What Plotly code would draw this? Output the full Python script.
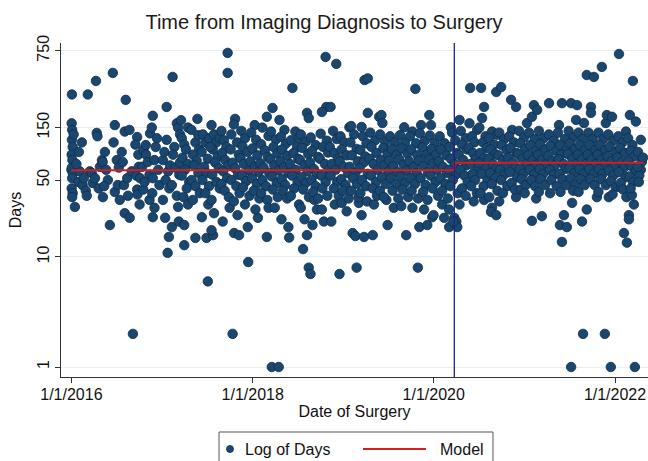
import pandas as pd
import plotly.graph_objects as go

# ---------------- data ----------------
# surgery date as days after 1/1/2016, and days from imaging diagnosis to surgery
surgery_day = [
    0, 2, 1, 3, 2, 5, 1, 4, 2, 6, 3, 1, 5, 3, 14, 30, 34, 28, 9, 20,
    45, 50, 58, 66, 62, 74, 42,
    82, 86, 99, 102, 105, 95, 110, 115,
    123, 126, 127, 155, 135, 140, 147, 132,
    167, 175, 183, 175, 187, 195, 170, 191,
    219, 215, 234, 203, 207, 215, 235, 212, 225, 228,
    243, 265, 262, 265, 266, 275, 272, 277, 248, 258, 270,
    290, 290, 285, 300, 301, 315, 315, 317, 295, 308,
    328, 324, 335, 328, 326, 335, 328, 345, 350, 355, 340,
    384, 369, 384, 369, 378, 393, 388, 390, 380, 395, 375, 398,
    408, 405, 425, 430, 415, 410, 420, 435, 405, 425, 430, 433, 438, 438,
    445, 455, 462, 448, 470, 458, 445, 475, 465, 452, 470, 455, 455, 470, 442,
    508, 484, 500, 515, 490, 505, 495, 512, 485, 500, 518, 490, 500, 512,
    526, 545, 552, 550, 530, 540, 525, 550, 535, 545, 528, 555, 540, 555,
    571, 565, 575, 565, 565, 575, 585, 570, 590, 580, 595, 568, 585, 598, 598, 560,
    610, 630, 630, 605, 615, 625, 608, 620, 632, 612, 628, 605, 618, 635, 638,
    650, 660, 655, 670, 656, 676, 645, 668, 642, 675, 650, 660, 672, 645, 665, 678, 655,
    711, 713, 685, 700, 690, 710, 682, 695, 715, 688, 705, 692, 718, 700,
    739, 752, 725, 745, 730, 750, 722, 740, 755, 728, 748, 735, 758, 742,
    788, 788, 770, 795, 765, 780, 792, 762, 775, 798, 770, 785, 765, 790, 795,
    811, 808, 836, 820, 839, 805, 825, 815, 830, 802, 818, 835, 808, 828, 812, 832,
    847, 875, 878, 859, 845, 865, 850, 870, 843, 858, 875, 848, 862, 852, 870,
    891, 903, 885, 910, 895, 915, 882, 905, 890, 912, 898, 885, 918, 918,
    934, 940, 950, 950, 957, 957, 925, 945, 930, 955, 922, 940, 952, 928, 945, 935, 958, 925,
    964, 972, 980, 965, 985, 970, 995, 962, 978, 990, 968, 985, 975, 995, 990,
    1025, 1028, 1010, 1010, 1018, 1005, 1030, 1015, 1035, 1002, 1022, 1038, 1008, 1025, 1012, 1032,
    1068, 1045, 1048, 1055, 1070, 1042, 1060, 1075, 1050, 1065, 1045, 1072, 1058, 1078, 1062,
    1081, 1090, 1085, 1100, 1090, 1110, 1082, 1098, 1115, 1088, 1105, 1095, 1118, 1110,
    1121, 1134, 1145, 1128, 1150, 1159, 1140, 1125, 1150, 1130, 1155, 1122, 1145, 1135, 1152, 1128, 1158,
    1170, 1170, 1180, 1182, 1195, 1195, 1175, 1190, 1165, 1185, 1178, 1162, 1195, 1172, 1188, 1165, 1192,
    1215, 1205, 1225, 1210, 1230, 1202, 1218, 1235, 1208, 1228, 1215, 1232, 1220,
    1241, 1250, 1254, 1270, 1275, 1245, 1265, 1258, 1275, 1248, 1262, 1278, 1252, 1268, 1244, 1260,
    1285, 1305, 1292, 1312, 1282, 1298, 1315, 1288, 1308, 1295, 1318, 1300,
    1342, 1350, 1325, 1345, 1332, 1355, 1322, 1340, 1352, 1328, 1345, 1335, 1358, 1330,
    1387, 1375, 1375, 1397, 1365, 1390, 1370, 1395, 1362, 1380, 1392, 1368, 1385, 1372, 1398,
    1403, 1410, 1435, 1405, 1425, 1415, 1432, 1402, 1420, 1438, 1408, 1428, 1418, 1436, 1422,
    1443, 1450, 1455, 1460, 1445, 1465, 1452, 1470, 1442, 1458, 1475, 1448, 1468, 1456, 1478,
    1495, 1503, 1485, 1505, 1490, 1512, 1482, 1498, 1515, 1488, 1508, 1495, 1518,
    1523, 1523, 1530, 1544, 1552, 1556, 1540, 1535, 1548, 1525, 1555, 1530, 1545, 1522, 1550, 1538, 1528, 1558,
    1565, 1570, 1590, 1575, 1595, 1562, 1580, 1592, 1568, 1585, 1598, 1575, 1590, 1565,
    1608, 1605, 1636, 1615, 1625, 1602, 1620, 1630, 1610, 1638, 1618, 1628, 1612, 1635, 1622,
    1652, 1656, 1664, 1664, 1645, 1670, 1660, 1675, 1648, 1665, 1642, 1672, 1655, 1678, 1662, 1650,
    1696, 1692, 1696, 1713, 1713, 1717, 1685, 1705, 1690, 1710, 1682, 1700, 1715, 1688, 1708, 1695, 1718, 1685,
    1733, 1725, 1745, 1735, 1755, 1722, 1740, 1750, 1728, 1745, 1733, 1758, 1740, 1725,
    1773, 1793, 1777, 1793, 1765, 1785, 1770, 1795, 1762, 1780, 1790, 1768, 1798, 1775, 1788,
    1813, 1837, 1805, 1825, 1810, 1830, 1802, 1818, 1835, 1808, 1822, 1815, 1832, 1828,
    1857, 1865, 1857, 1874, 1878, 1845, 1868, 1850, 1872, 1842, 1860, 1876, 1848, 1865, 1855, 1870,
    1897, 1885, 1905, 1890, 1912, 1882, 1898, 1915, 1888, 1902, 1893, 1910, 1885,
    1926, 1925, 1945, 1932, 1955, 1922, 1940, 1950, 1928, 1945, 1935, 1957, 1930,
    1966, 1978, 1970, 1978, 1986, 1998, 1962, 1990, 1970, 1995, 1975, 1965, 1985, 1992, 1968, 1980, 1996, 1972,
    2015, 2015, 2019, 2039, 2035, 2005, 2025, 2010, 2030, 2002, 2020, 2038, 2008, 2028, 2013, 2033, 2023,
    2059, 2063, 2067, 2078, 2078, 2045, 2062, 2050, 2072, 2042, 2058, 2075, 2048, 2066, 2054, 2070, 2045,
    2095, 2095, 2107, 2119, 2085, 2102, 2090, 2112, 2082, 2098, 2115, 2088, 2105, 2093, 2110,
    2139, 2151, 2155, 2159, 2125, 2145, 2130, 2152, 2122, 2138, 2150, 2128, 2142, 2135, 2155, 2125,
    2167, 2175, 2180, 2165, 2185, 2170, 2195, 2162, 2178, 2190, 2168, 2185, 2175, 2195, 2182,
    2208, 2216, 2228, 2236, 2240, 2205, 2222, 2212, 2232, 2202, 2218, 2228, 2208, 2235, 2215, 2225, 2238,
    2248, 2248, 2252, 2264, 2260, 2268, 2272, 2276, 2245, 2262, 2255, 2270, 2245, 2258, 2275, 2250, 2265, 2255,
    2296, 2300, 2296, 2285, 2290, 2305, 2283, 2288,
]

days_to_surgery = [
    62, 300, 164, 143, 116, 100, 85, 76, 65, 57, 52, 42, 38, 35, 28.5, 90, 60, 48, 130, 70,
    45, 52, 40, 300, 36, 60, 110,
    58, 47, 398, 134, 125, 52, 42, 66,
    76, 73, 35, 19.5, 90, 62, 50, 44,
    471, 158, 76, 39, 45, 33, 110, 65,
    268, 138, 143, 90, 73, 25, 22.7, 45, 52, 36,
    60, 123, 55, 41, 37, 30, 66, 52, 2, 105, 85,
    94, 41, 66, 104, 85, 56, 33, 133, 48, 73,
    192, 150, 76, 52, 38, 28, 23, 120, 62, 45, 100,
    231, 33, 116, 76, 22.7, 15.2, 10.9, 60, 50, 42, 90, 68,
    433, 18.7, 164, 150, 100, 85, 65, 56, 45, 36, 28.5, 21, 130, 72,
    120, 105, 95, 80, 70, 62, 55, 48, 42, 35, 30, 19.5, 12.8, 150, 175,
    180, 143, 110, 95, 85, 75, 68, 58, 50, 44, 38, 33, 14.9, 128,
    23, 14.9, 30, 6, 130, 110, 90, 78, 66, 58, 50, 44, 38, 120,
    15.8, 33, 25, 17.5, 158, 130, 110, 95, 82, 72, 64, 56, 48, 42, 120, 100,
    21, 716, 471, 140, 115, 100, 88, 76, 68, 60, 52, 46, 40, 35, 28,
    2, 180, 160, 24, 16.5, 15.8, 130, 110, 95, 85, 72, 64, 56, 50, 44, 38, 32,
    18.7, 9, 140, 120, 101, 90, 79, 70, 61, 55, 49, 43, 36, 30,
    158, 22.7, 135, 116, 97, 84, 74, 66, 59, 52, 46, 40, 34, 27,
    188, 15.2, 150, 126, 106, 93, 81, 71, 65, 58, 50, 44, 38, 33, 28,
    226, 1, 1, 28, 176, 138, 117, 100, 87, 77, 68, 61, 54, 47, 41, 35,
    22, 18.7, 15, 143, 124, 107, 95, 83, 74, 66, 58, 51, 45, 40, 34,
    344, 138, 115, 100, 88, 78, 70, 62, 55, 48, 42, 36, 30, 120,
    11.8, 22, 15.8, 204, 183, 8, 130, 112, 98, 86, 76, 68, 60, 53, 47, 41, 35, 28,
    7, 19.5, 33, 122, 104, 92, 81, 72, 63, 57, 50, 44, 39, 34, 27,
    658, 231, 208, 27, 21, 132, 114, 100, 89, 78, 70, 62, 55, 48, 42, 36,
    569, 231, 21, 140, 118, 100, 88, 78, 70, 62, 55, 48, 42, 36, 30,
    7, 31, 125, 110, 95, 84, 74, 66, 58, 51, 45, 40, 34, 26,
    151, 16.5, 15.5, 155, 8, 31, 130, 110, 96, 84, 74, 66, 58, 52, 46, 40, 35,
    24, 152, 15.2, 406, 420, 204, 125, 108, 94, 82, 72, 64, 57, 50, 44, 38, 32,
    15.8, 135, 115, 100, 88, 78, 70, 62, 55, 48, 42, 36, 30,
    188, 195, 165, 33, 19.5, 130, 112, 98, 86, 76, 68, 60, 53, 46, 40, 35,
    125, 110, 96, 85, 75, 67, 59, 52, 46, 40, 34, 28,
    151, 15.8, 128, 110, 97, 87, 77, 69, 61, 54, 47, 41, 35, 29,
    337, 138, 28, 8, 125, 108, 95, 84, 74, 66, 58, 52, 46, 40, 34,
    18.7, 158, 19.5, 133, 114, 99, 85, 75, 67, 59, 52, 45, 39, 33, 27,
    195, 158, 23, 24, 127, 109, 96, 85, 77, 70, 62, 55, 48, 42, 36,
    30, 22.7, 125, 108, 95, 84, 74, 66, 58, 52, 46, 40, 34,
    27, 18.7, 151, 22.7, 21, 18.7, 21, 135, 115, 100, 88, 78, 70, 62, 56, 50, 44, 38,
    176, 140, 120, 105, 95, 85, 76, 68, 62, 55, 48, 42, 36, 30,
    344, 164, 143, 125, 110, 98, 88, 78, 70, 63, 57, 50, 44, 38, 32,
    344, 183, 231, 33, 150, 125, 110, 98, 88, 79, 71, 64, 57, 50, 44, 38,
    28, 25.7, 138, 316, 24, 129, 120, 105, 95, 86, 78, 70, 64, 58, 52, 46, 40, 35,
    350, 135, 118, 104, 94, 84, 76, 69, 62, 56, 50, 44, 38, 32,
    268, 231, 143, 35, 125, 110, 98, 88, 80, 72, 65, 59, 53, 47, 41,
    41, 165, 140, 122, 108, 96, 86, 78, 70, 63, 57, 51, 45, 38,
    188, 240, 21.3, 34, 217, 135, 118, 104, 93, 84, 76, 69, 62, 56, 50, 44,
    23.5, 140, 120, 106, 95, 85, 77, 70, 63, 57, 51, 45, 39,
    250, 130, 114, 102, 92, 83, 75, 68, 62, 56, 50, 44, 38,
    158, 250, 19.5, 13.7, 24, 18.7, 135, 118, 104, 94, 85, 77, 70, 63, 57, 51, 45, 39,
    250, 1, 31, 240, 176, 140, 122, 108, 96, 86, 78, 71, 64, 58, 52, 46, 40,
    21, 2, 165, 451, 27, 135, 118, 104, 94, 85, 77, 70, 63, 57, 51, 45, 39,
    231, 204, 433, 35, 135, 118, 104, 94, 85, 77, 70, 63, 57, 51, 45,
    534, 2, 165, 195, 135, 118, 104, 94, 85, 77, 70, 63, 57, 51, 45, 39,
    35, 1, 188, 130, 114, 100, 90, 82, 74, 67, 61, 55, 49, 43, 37,
    700, 43, 16.5, 138, 13.5, 125, 110, 98, 88, 80, 72, 65, 59, 53, 47, 41, 35,
    24, 22, 195, 398, 36.5, 30, 1, 170, 120, 104, 92, 82, 74, 67, 60, 54, 48, 42,
    116, 73, 62, 90, 55, 80, 66, 48,
]

# fitted model: level before and after the break (March 2020)
model_dates = ["2016-01-01", "2020-03-24", "2022-04-26"]
model_values = [61.5, 72, 72]
break_date = "2020-03-24"

x_tick_dates = ["2016-01-01", "2018-01-01", "2020-01-01", "2022-01-01"]
x_tick_labels = ["1/1/2016", "1/1/2018", "1/1/2020", "1/1/2022"]
y_tick_values = [1, 10, 50, 150, 750]
y_tick_labels = ["1", "10", "50", "150", "750"]

assert len(surgery_day) == len(days_to_surgery), (len(surgery_day), len(days_to_surgery))

# ---------------- figure ----------------
origin = pd.Timestamp("2016-01-01")
surgery_dates = origin + pd.to_timedelta(surgery_day, unit="D")

NAVY = "#1a476f"
RED = "#d91c1c"
FONT = "Liberation Sans, Arial, sans-serif"

fig = go.Figure()
fig.add_trace(go.Scatter(
    x=surgery_dates, y=days_to_surgery, mode="markers", name="Log of Days",
    marker=dict(size=9.5, color=NAVY, line=dict(color="#0f2d4a", width=0.8)),
    showlegend=False,
))
fig.add_trace(go.Scatter(
    x=model_dates, y=model_values, mode="lines", line_shape="hv", name="Model",
    line=dict(color=RED, width=2), showlegend=False,
))

fig.add_shape(type="line", xref="x", yref="paper", x0=break_date, x1=break_date,
              y0=0, y1=1, line=dict(color="#22228a", width=1.3))

# legend box (drawn manually to match the original layout)
fig.add_shape(type="rect", xref="paper", yref="paper", x0=0.2692, x1=0.7359,
              y0=-0.2665, y1=-0.1647, line=dict(color="#555555", width=1),
              fillcolor="white")
fig.add_shape(type="circle", xref="paper", yref="paper", xsizemode="pixel",
              ysizemode="pixel", xanchor=0.2879, yanchor=-0.2156,
              x0=-3.5, x1=3.5, y0=-3.5, y1=3.5,
              fillcolor=NAVY, line=dict(color="#0f2d4a", width=0.8))
fig.add_shape(type="line", xref="paper", yref="paper", x0=0.5145, x1=0.6218,
              y0=-0.2156, y1=-0.2156, line=dict(color=RED, width=2))
fig.add_annotation(text="Log of Days", xref="paper", yref="paper", x=0.3101,
                   y=-0.2156, xanchor="left", yanchor="middle", showarrow=False,
                   font=dict(size=16, color="#111111", family=FONT))
fig.add_annotation(text="Model", xref="paper", yref="paper", x=0.6422,
                   y=-0.2156, xanchor="left", yanchor="middle", showarrow=False,
                   font=dict(size=16, color="#111111", family=FONT))

fig.update_layout(
    width=648, height=461,
    margin=dict(l=61, r=0, t=43, b=84),
    paper_bgcolor="white", plot_bgcolor="white",
    font=dict(family=FONT, size=16, color="#111111"),
    title=dict(text="Time from Imaging Diagnosis to Surgery", x=0.5, xref="container",
               xanchor="center", y=1 - 22 / 461, yref="container", yanchor="middle",
               font=dict(size=20, color="#1a1a1a", family=FONT)),
    xaxis=dict(
        type="date",
        range=[origin - pd.Timedelta(days=42), origin + pd.Timedelta(days=2325)],
        tickvals=x_tick_dates, ticktext=x_tick_labels,
        ticks="outside", ticklen=5, tickcolor="#333333",
        showline=True, linecolor="#333333", linewidth=1,
        showgrid=False, zeroline=False,
        tickfont=dict(size=16), ticklabelstandoff=-2,
        title=dict(text="Date of Surgery", font=dict(size=16), standoff=2),
    ),
    yaxis=dict(
        type="log", range=[-0.0909, 2.945],
        tickvals=y_tick_values, ticktext=y_tick_labels, tickangle=-90,
        ticks="outside", ticklen=5, tickcolor="#333333",
        showline=True, linecolor="#333333", linewidth=1,
        showgrid=True, gridcolor="#e6eef1", gridwidth=1, zeroline=False,
        tickfont=dict(size=16),
        title=dict(text="Days", font=dict(size=16), standoff=8),
    ),
)

fig.write_html(
    "out.html",
    config={"displayModeBar": False},
    post_script="document.body.style.margin='0';document.body.style.overflow='hidden';",
)
